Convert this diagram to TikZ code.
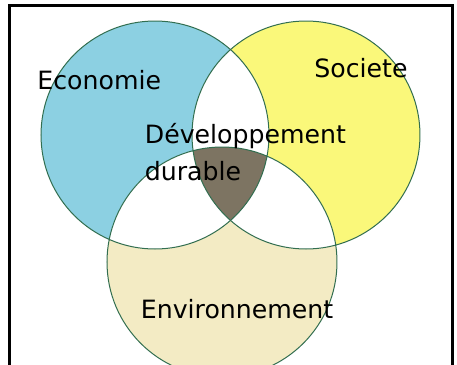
\documentclass[tikz,border=0pt]{standalone}
\usepackage{fontspec}
\setmainfont{DejaVu Sans}
\usepackage{tikz}
\usepackage{color}

\definecolor{ecoblue}{RGB}{140,208,226}
\definecolor{socyellow}{RGB}{250,248,122}
\definecolor{envbeige}{RGB}{243,235,196}
\definecolor{durbrown}{RGB}{125,116,98}
\definecolor{edgegreen}{RGB}{50,110,80}

\newcommand{\ecocircle}{(155,135) circle (114)}
\newcommand{\soccircle}{(306,135) circle (114)}
\newcommand{\envcircle}{(222,262) circle (115)}

\begin{document}
\begin{tikzpicture}[x=0.5pt,y=-0.5pt,font=\fontsize{12.6pt}{18.5pt}\selectfont,
  label/.style={anchor=base west,inner sep=0pt}]
\useasboundingbox (0,0) rectangle (457,365);
\fill[ecoblue] \ecocircle;
\fill[socyellow] \soccircle;
\fill[envbeige] \envcircle;
\begin{scope}
\clip \ecocircle;
\fill[white] \soccircle;
\fill[white] \envcircle;
\end{scope}
\begin{scope}
\clip \soccircle;
\fill[white] \envcircle;
\end{scope}
\begin{scope}
\clip \ecocircle;
\clip \soccircle;
\fill[durbrown] \envcircle;
\end{scope}
\draw[edgegreen,line width=0.5pt] \ecocircle \soccircle \envcircle;
\draw[line width=1.5pt] (10,366) -- (10,5.5) -- (453,5.5) -- (453,366);

\node[label] (economie) at (37,89) {Economie};
\node[label] (societe) at (314,77) {Societe};
\node[label,align=left] (durable) at (144.5,180) {Développement\\durable};
\node[label] (environnement) at (140.5,318) {Environnement};
%\node[label] at (144.5,143) {Développement};

\end{tikzpicture}
\end{document}
